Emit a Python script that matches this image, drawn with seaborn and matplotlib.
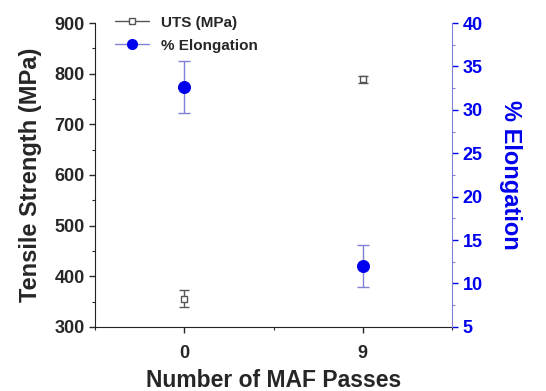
import numpy as np
import pandas as pd
import seaborn as sns
import matplotlib.pyplot as plt
from matplotlib.lines import Line2D
from matplotlib.ticker import MultipleLocator

# dados
passes = [0, 9]
uts = [356, 789]
uts_err = [16, 7]
elong = [32.6, 12.0]
elong_err = [3.0, 2.4]

df = pd.DataFrame({'passes': passes, 'uts': uts, 'elong': elong})

sns.set_style('ticks')
plt.rcParams['font.family'] = ['Liberation Sans', 'DejaVu Sans']
plt.rcParams['font.weight'] = 'bold'

fig, ax = plt.subplots(figsize=(5.46, 3.91), dpi=100)
fig.subplots_adjust(left=0.174, right=0.828, top=0.941, bottom=0.164)

blue = '#0000ee'
errblue = '#8080d8'

# UTS (eixo esquerdo)
ax.errorbar(df['passes'], df['uts'], yerr=uts_err, fmt='none', ecolor='#555555',
            elinewidth=1, capsize=3.5, capthick=1, zorder=2)
sns.scatterplot(data=df, x='passes', y='uts', ax=ax, marker='s', s=18,
                facecolor='white', edgecolor='#555555', linewidth=1, zorder=3)
ax.set_xlim(-4.5, 13.5)
ax.set_ylim(300, 900)
ax.set_xticks(passes)
ax.xaxis.set_minor_locator(MultipleLocator(4.5))
ax.yaxis.set_minor_locator(MultipleLocator(50))
ax.set_xlabel('Number of MAF Passes', fontsize=16.5, fontweight='bold', labelpad=5)
ax.set_ylabel('Tensile Strength (MPa)', fontsize=17, fontweight='bold', labelpad=9)
ax.tick_params(axis='both', which='major', labelsize=13, direction='out', length=4, width=1)
ax.tick_params(axis='x', which='major', pad=9)
ax.tick_params(axis='both', which='minor', direction='out', length=2.5, width=0.8)
ax.spines['top'].set_visible(False)
ax.spines['right'].set_visible(False)
for s in ['left', 'bottom']:
    ax.spines[s].set_color('#222222')

# % Elongation (eixo direito)
ax2 = ax.twinx()
ax2.errorbar(df['passes'], df['elong'], yerr=elong_err, fmt='none', ecolor=errblue,
             elinewidth=1, capsize=4, capthick=1, zorder=2)
sns.scatterplot(data=df, x='passes', y='elong', ax=ax2, marker='o', s=75,
                color=blue, edgecolor=blue, zorder=3)
ax2.set_ylim(5, 40)
ax2.yaxis.set_major_locator(MultipleLocator(5))
ax2.yaxis.set_minor_locator(MultipleLocator(2.5))
ax2.set_ylabel('% Elongation', fontsize=17, fontweight='bold', color=blue,
               rotation=270, labelpad=28)
ax2.tick_params(axis='y', which='major', labelsize=13, colors=blue, direction='out', length=4, width=1)
ax2.tick_params(axis='y', which='minor', colors=errblue, direction='out', length=2.5, width=0.8)
ax2.spines['top'].set_visible(False)
ax2.spines['left'].set_visible(False)
ax2.spines['bottom'].set_visible(False)
ax2.spines['right'].set_color(errblue)

handles = [
    Line2D([], [], color='#555555', lw=1, marker='s', markersize=4,
           markerfacecolor='white', markeredgecolor='#555555'),
    Line2D([], [], color=errblue, lw=1, marker='o', markersize=7,
           markerfacecolor=blue, markeredgecolor=blue),
]
leg = ax.legend(handles, ['UTS (MPa)', '% Elongation'], loc='upper left',
                frameon=False, fontsize=11, handlelength=2.2,
                borderaxespad=0.0, bbox_to_anchor=(0.04, 1.045), labelspacing=0.6)
for t in leg.get_texts():
    t.set_fontweight('bold')

plt.savefig('out.png', dpi=100)
